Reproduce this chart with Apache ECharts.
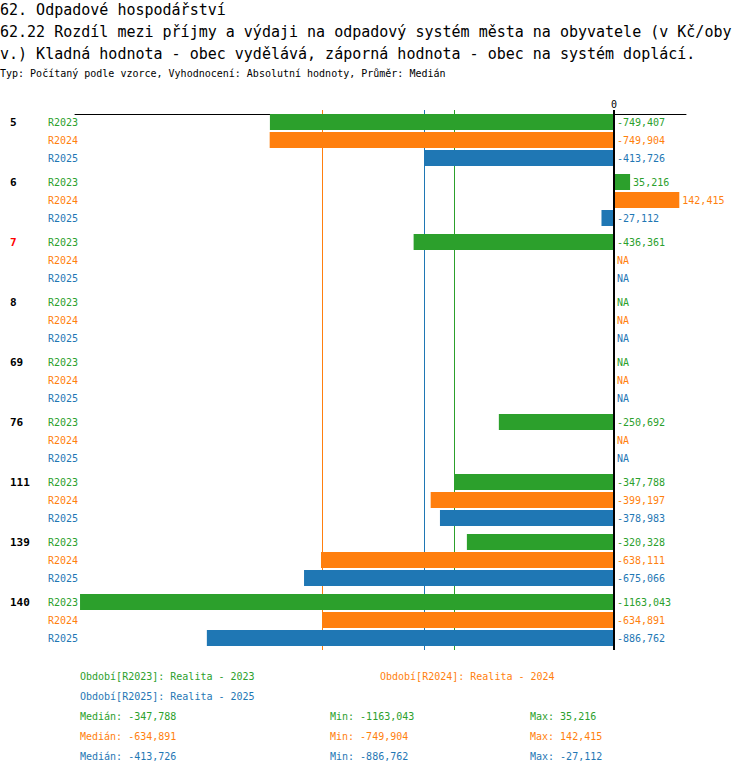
<!DOCTYPE html>
<html>
<head>
<meta charset="utf-8">
<script src="https://cdn.jsdelivr.net/npm/echarts@6/dist/echarts.min.js"></script>
<style>
  html, body { margin: 0; padding: 0; background: #fff; }
  #chart { width: 750px; height: 774px; }
</style>
</head>
<body>
<div id="chart"></div>
<script>
// skupiny (obce) a hodnoty podle období, null = NA
var groups = ['5', '6', '7', '8', '69', '76', '111', '139', '140'];
var highlighted = ['7'];
var periods = ['R2023', 'R2024', 'R2025'];
var periodNames = ['Realita - 2023', 'Realita - 2024', 'Realita - 2025'];
var colors = ['#2ca02c', '#ff7f0e', '#1f77b4'];

var r2023 = [-749407, 35216, -436361, null, null, -250692, -347788, -320328, -1163043];
var r2024 = [-749904, 142415, null, null, null, null, -399197, -638111, -634891];
var r2025 = [-413726, -27112, null, null, null, null, -378983, -675066, -886762];
var seriesValues = [r2023, r2024, r2025];

var FONT = '"DejaVu Sans Mono", "Liberation Mono", monospace';

// -1163043 -> "-1163,043" (jako v originale, jen posledni trojice oddelena)
function fmt(v) {
  var sign = v < 0 ? '-' : '';
  var a = Math.abs(v);
  if (a < 1000) return sign + a;
  var rest = a % 1000;
  return sign + Math.floor(a / 1000) + ',' + ('00' + rest).slice(-3);
}

function stats(arr) {
  var vals = arr.filter(function (v) { return v !== null; }).sort(function (a, b) { return a - b; });
  var n = vals.length;
  var med = n % 2 ? vals[(n - 1) / 2] : (vals[n / 2 - 1] + vals[n / 2]) / 2;
  return { median: med, min: vals[0], max: vals[n - 1] };
}

var series = [];
var graphics = [];
for (var i = 0; i < periods.length; i++) {
  (function (i) {
    var vals = seriesValues[i];
    var st = stats(vals);
    series.push({
      name: periods[i],
      type: 'bar',
      barWidth: 16,
      barGap: '12.5%',
      itemStyle: { color: colors[i] },
      data: vals.map(function (v) { return v === null ? 0 : v; }),
      label: {
        show: true,
        position: 'right',
        distance: 3,
        color: colors[i],
        fontFamily: FONT,
        fontSize: 10,
        formatter: function (p) {
          return vals[p.dataIndex] === null ? 'NA' : fmt(vals[p.dataIndex]);
        }
      },
      markLine: {
        silent: true,
        z: 1,
        symbol: 'none',
        label: { show: false },
        lineStyle: { color: colors[i], width: 1, type: 'solid' },
        emphasis: { disabled: true },
        data: [{ xAxis: st.median }]
      }
    });
    var y = 716 + i * 20;
    var tstyle = { fill: colors[i], font: '10px ' + FONT, verticalAlign: 'middle' };
    graphics.push({ type: 'text', x: 80, y: y, style: Object.assign({ text: 'Medián: ' + fmt(st.median) }, tstyle) });
    graphics.push({ type: 'text', x: 330, y: y, style: Object.assign({ text: 'Min: ' + fmt(st.min) }, tstyle) });
    graphics.push({ type: 'text', x: 530, y: y, style: Object.assign({ text: 'Max: ' + fmt(st.max) }, tstyle) });
  })(i);
}

// nulova osa
series.push({
  type: 'line',
  data: [],
  markLine: {
    silent: true,
    z: 6,
    symbol: 'none',
    label: { show: false },
    lineStyle: { color: '#000', width: 2, type: 'solid' },
    emphasis: { disabled: true },
    data: [{ xAxis: 0 }]
  }
});

// popisky obdobi
var legendPos = [[80, 676], [380, 676], [80, 696]];
for (var k = 0; k < periods.length; k++) {
  graphics.push({
    type: 'text', x: legendPos[k][0], y: legendPos[k][1],
    style: {
      text: 'Období[' + periods[k] + ']: ' + periodNames[k],
      fill: colors[k], font: '10px ' + FONT, verticalAlign: 'middle'
    }
  });
}

var myChart = echarts.init(document.getElementById('chart'), null, { renderer: 'svg' });
var option = {
  animation: false,
  title: [
    {
      text: '62. Odpadové hospodářství\n62.22 Rozdíl mezi příjmy a výdaji na odpadový systém města na obyvatele (v Kč/oby\nv.) Kladná hodnota - obec vydělává, záporná hodnota - obec na systém doplácí.',
      left: 0, top: -1, padding: 0,
      textStyle: { fontFamily: FONT, fontSize: 15, fontWeight: 'normal', color: '#000', lineHeight: 22 }
    },
    {
      text: 'Typ: Počítaný podle vzorce, Vyhodnocení: Absolutní hodnoty, Průměr: Medián',
      left: 0, top: 67, padding: 0,
      textStyle: { fontFamily: FONT, fontSize: 10, fontWeight: 'normal', color: '#000', lineHeight: 12 }
    }
  ],
  grid: { left: 75, right: 64, top: 110, height: 540, containLabel: false },
  xAxis: {
    type: 'value',
    position: 'top',
    offset: -4,
    min: -1174000,
    max: 157000,
    splitLine: { show: false },
    axisTick: { show: false },
    axisLine: { show: true, lineStyle: { color: '#000', width: 1 } },
    axisLabel: {
      customValues: [0],
      margin: 5,
      color: '#000',
      fontFamily: FONT,
      fontSize: 10,
      formatter: function (v) { return v === 0 ? '0' : ''; }
    }
  },
  yAxis: {
    type: 'category',
    inverse: true,
    data: groups,
    axisLine: { show: false },
    axisTick: { show: false },
    splitLine: { show: false },
    axisLabel: {
      margin: -3,
      interval: 0,
      lineHeight: 18,
      formatter: function (g) {
        var gs = highlighted.indexOf(g) >= 0 ? 'gr' : 'g';
        return '{' + gs + '|' + g + '}{a|' + periods[0] + '}\n{b|' + periods[1] + '}\n{c|' + periods[2] + '}';
      },
      rich: {
        g: { width: 38, align: 'left', fontFamily: FONT, fontSize: 11, fontWeight: 'bold', color: '#000', lineHeight: 18 },
        gr: { width: 38, align: 'left', fontFamily: FONT, fontSize: 11, fontWeight: 'bold', color: '#ff0000', lineHeight: 18 },
        a: { fontFamily: FONT, fontSize: 10, color: colors[0], lineHeight: 18 },
        b: { fontFamily: FONT, fontSize: 10, color: colors[1], lineHeight: 18 },
        c: { fontFamily: FONT, fontSize: 10, color: colors[2], lineHeight: 18 }
      }
    }
  },
  series: series,
  graphic: graphics
};
myChart.setOption(option);
</script>
</body>
</html>
